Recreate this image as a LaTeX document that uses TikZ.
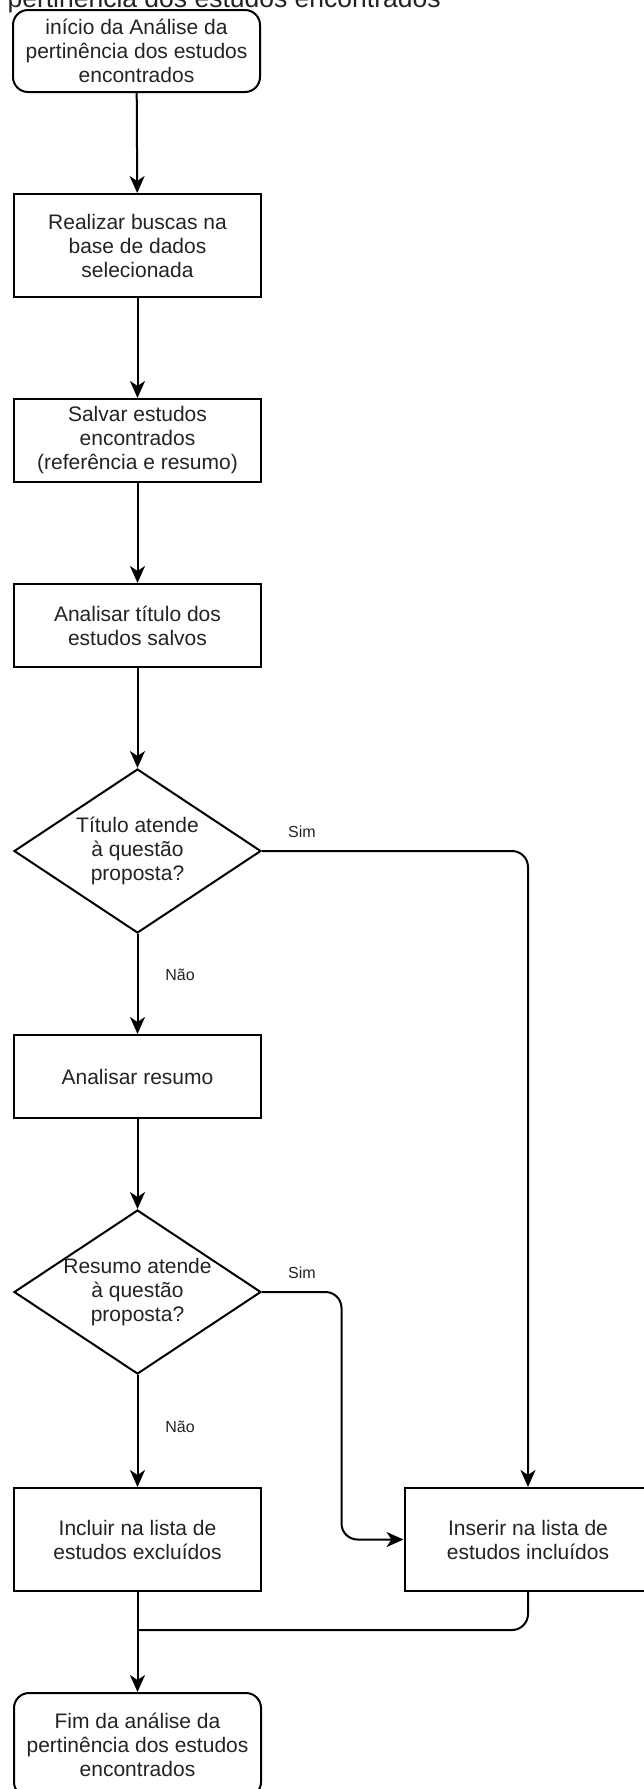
\documentclass[tikz,border=0pt]{standalone}
\usepackage{fontspec}
\setmainfont{Liberation Sans}
\usetikzlibrary{arrows.meta,shapes.geometric,calc}
\definecolor{txt}{RGB}{35,35,35}
\begin{document}
\begin{tikzpicture}[x=1pt,y=-1pt,
  every node/.style={font=\fontsize{21}{24}\selectfont, text=txt, align=center},
  proc/.style={draw=black, line width=2pt, minimum width=247pt, inner sep=0pt},
  term/.style={proc, rounded corners=15pt},
  dec/.style={draw=black, diamond, line width=2pt, minimum width=247pt, minimum height=164pt, inner sep=0pt},
  lbl/.style={font=\fontsize{16}{18}\selectfont},
  arr/.style={draw=black, line width=2pt, -{Stealth[length=17pt,width=15pt,inset=5pt]}},
  conn/.style={draw=black, line width=2pt}]
\useasboundingbox (0,0) rectangle (644,1789);
\fill[white] (0,0) rectangle (644,1789);
\clip (0,0) rectangle (644,1789);

\node[anchor=base west, font=\fontsize{26.5}{30}\selectfont] (title) at (4,7) {pertinência dos estudos encontrados};

\node[term, minimum height=82pt] (start) at (136.5,51) {início da Análise da\\pertinência dos estudos\\encontrados};
\node[proc, minimum height=103pt] (b2) at (137.5,245.5) {Realizar buscas na\\base de dados\\selecionada};
\node[proc, minimum height=83pt] (b3) at (137.5,440.5) {Salvar estudos\\encontrados\\(referência e resumo)};
\node[proc, minimum height=83pt] (b4) at (137.5,625.5) {Analisar título dos\\estudos salvos};
\node[dec] (d1) at (137.5,851) {};
\node (t1) at (d1) {Título atende\\à questão\\proposta?};
\node[proc, minimum height=83pt] (b5) at (137.5,1076.5) {Analisar resumo};
\node[dec] (d2) at (137.5,1292) {};
\node (t2) at (d2) {Resumo atende\\à questão\\proposta?};
\node[proc, minimum height=103pt] (b6) at (137.5,1539.5) {Incluir na lista de\\estudos excluídos};
\node[proc, minimum height=103pt] (b7) at (528,1539.5) {Inserir na lista de\\estudos incluídos};
\node[term, minimum height=104pt] (end) at (137.5,1745) {Fim da análise da\\pertinência dos estudos\\encontrados};
\coordinate (m) at (137.5,1630);

\draw[arr] (start) -- (b2);
\draw[arr] (b2) -- (b3);
\draw[arr] (b3) -- (b4);
\draw[arr] (b4) -- (d1);
\draw[arr] (d1) -- (b5);
\draw[arr] (b5) -- (d2);
\draw[arr] (d2) -- (b6);
\draw[arr, rounded corners=16pt] (d1.east) -| (b7.north);
\draw[arr, rounded corners=16pt] (d2.east) -| ([xshift=-62pt]b7.west) -- (b7.west);
\draw[arr] (b6) -- (end);
\draw[conn, rounded corners=16pt] (b7.south) |- (m);

\node[lbl] (s1) at (302,832) {Sim};
\node[lbl] (n1) at (180,975) {Não};
\node[lbl] (s2) at (302,1273) {Sim};
\node[lbl] (n2) at (180,1427) {Não};
\end{tikzpicture}
\end{document}
